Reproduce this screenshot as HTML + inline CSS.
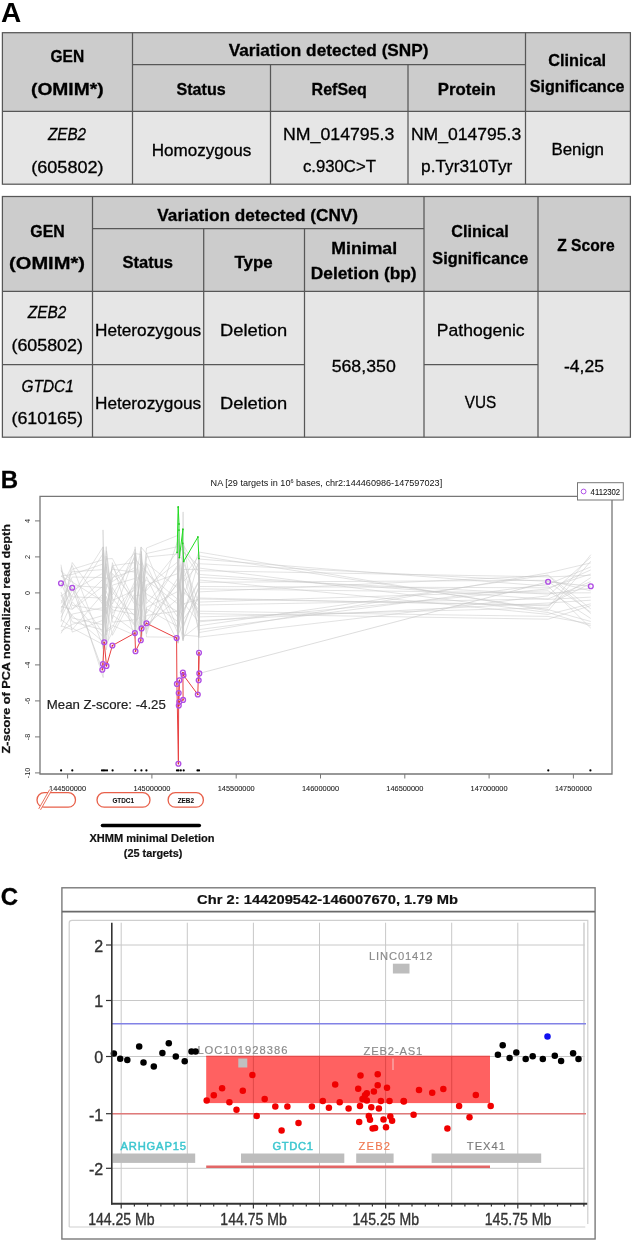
<!DOCTYPE html>
<html><head><meta charset="utf-8"><style>
html,body{margin:0;padding:0;background:#fff;width:633px;height:1243px;overflow:hidden}
svg{display:block;font-family:"Liberation Sans", sans-serif;will-change:transform}
</style></head><body>
<svg width="633" height="1243" viewBox="0 0 633 1243">
<text x="11" y="22" font-size="28" font-weight="bold" font-style="normal" text-anchor="middle" fill="#000" >A</text>
<rect x="2.4" y="32.7" width="628" height="78.7" fill="#cccccc" stroke="none" stroke-width="1" />
<rect x="2.4" y="111.4" width="628" height="72.8" fill="#e6e6e6" stroke="none" stroke-width="1" />
<rect x="2.4" y="32.7" width="628" height="151.5" fill="none" stroke="#575757" stroke-width="1.25" />
<line x1="2.4" y1="111.4" x2="630.4" y2="111.4" stroke="#575757" stroke-width="1.25" />
<line x1="132.5" y1="64.5" x2="525.5" y2="64.5" stroke="#575757" stroke-width="1.25" />
<line x1="132.5" y1="32.5" x2="132.5" y2="184" stroke="#575757" stroke-width="1.25" />
<line x1="525.5" y1="32.5" x2="525.5" y2="184" stroke="#575757" stroke-width="1.25" />
<line x1="270.5" y1="64.5" x2="270.5" y2="184" stroke="#575757" stroke-width="1.25" />
<line x1="408" y1="64.5" x2="408" y2="184" stroke="#575757" stroke-width="1.25" />
<text x="67.3" y="62" font-size="16.5" font-weight="bold" font-style="normal" text-anchor="middle" fill="#000" textLength="33.6" lengthAdjust="spacingAndGlyphs"  stroke="#000" stroke-width="0.3">GEN</text>
<text x="67.3" y="95" font-size="16.5" font-weight="bold" font-style="normal" text-anchor="middle" fill="#000" textLength="72.6" lengthAdjust="spacingAndGlyphs"  stroke="#000" stroke-width="0.3">(OMIM*)</text>
<text x="328.6" y="55.5" font-size="16.5" font-weight="bold" font-style="normal" text-anchor="middle" fill="#000" textLength="199.8" lengthAdjust="spacingAndGlyphs"  stroke="#000" stroke-width="0.3">Variation detected (SNP)</text>
<text x="201.1" y="95" font-size="16.5" font-weight="bold" font-style="normal" text-anchor="middle" fill="#000" textLength="49.2" lengthAdjust="spacingAndGlyphs"  stroke="#000" stroke-width="0.3">Status</text>
<text x="339.2" y="95" font-size="16.5" font-weight="bold" font-style="normal" text-anchor="middle" fill="#000" textLength="55.2" lengthAdjust="spacingAndGlyphs"  stroke="#000" stroke-width="0.3">RefSeq</text>
<text x="466.8" y="95" font-size="16.5" font-weight="bold" font-style="normal" text-anchor="middle" fill="#000" textLength="57.9" lengthAdjust="spacingAndGlyphs"  stroke="#000" stroke-width="0.3">Protein</text>
<text x="577.2" y="66" font-size="16.5" font-weight="bold" font-style="normal" text-anchor="middle" fill="#000" textLength="57.9" lengthAdjust="spacingAndGlyphs"  stroke="#000" stroke-width="0.3">Clinical</text>
<text x="577.2" y="92" font-size="16.5" font-weight="bold" font-style="normal" text-anchor="middle" fill="#000" textLength="94.7" lengthAdjust="spacingAndGlyphs"  stroke="#000" stroke-width="0.3">Significance</text>
<text x="67" y="140.3" font-size="17" font-weight="normal" font-style="italic" text-anchor="middle" fill="#000" textLength="38" lengthAdjust="spacingAndGlyphs"  stroke="#000" stroke-width="0.3">ZEB2</text>
<text x="67.4" y="173" font-size="17" font-weight="normal" font-style="normal" text-anchor="middle" fill="#000" textLength="72.3" lengthAdjust="spacingAndGlyphs"  stroke="#000" stroke-width="0.3">(605802)</text>
<text x="201.5" y="156" font-size="17" font-weight="normal" font-style="normal" text-anchor="middle" fill="#000" textLength="99.6" lengthAdjust="spacingAndGlyphs"  stroke="#000" stroke-width="0.3">Homozygous</text>
<text x="338.7" y="140" font-size="17" font-weight="normal" font-style="normal" text-anchor="middle" fill="#000" textLength="111.3" lengthAdjust="spacingAndGlyphs"  stroke="#000" stroke-width="0.3">NM_014795.3</text>
<text x="339.4" y="171.5" font-size="17" font-weight="normal" font-style="normal" text-anchor="middle" fill="#000" textLength="73" lengthAdjust="spacingAndGlyphs"  stroke="#000" stroke-width="0.3">c.930C&gt;T</text>
<text x="466.1" y="140" font-size="17" font-weight="normal" font-style="normal" text-anchor="middle" fill="#000" textLength="110.4" lengthAdjust="spacingAndGlyphs"  stroke="#000" stroke-width="0.3">NM_014795.3</text>
<text x="466.7" y="171.5" font-size="17" font-weight="normal" font-style="normal" text-anchor="middle" fill="#000" textLength="91.2" lengthAdjust="spacingAndGlyphs"  stroke="#000" stroke-width="0.3">p.Tyr310Tyr</text>
<text x="577.7" y="155" font-size="17" font-weight="normal" font-style="normal" text-anchor="middle" fill="#000" textLength="52.6" lengthAdjust="spacingAndGlyphs"  stroke="#000" stroke-width="0.3">Benign</text>
<rect x="2.4" y="196.5" width="628" height="94.9" fill="#cccccc" stroke="none" stroke-width="1" />
<rect x="2.4" y="291.4" width="628" height="145.8" fill="#e6e6e6" stroke="none" stroke-width="1" />
<rect x="2.4" y="196.5" width="628" height="240.7" fill="none" stroke="#575757" stroke-width="1.25" />
<line x1="2.4" y1="291.4" x2="630.4" y2="291.4" stroke="#575757" stroke-width="1.25" />
<line x1="92.5" y1="228.6" x2="424" y2="228.6" stroke="#575757" stroke-width="1.25" />
<line x1="92.5" y1="196.5" x2="92.5" y2="437.2" stroke="#575757" stroke-width="1.25" />
<line x1="424" y1="196.5" x2="424" y2="437.2" stroke="#575757" stroke-width="1.25" />
<line x1="538" y1="196.5" x2="538" y2="437.2" stroke="#575757" stroke-width="1.25" />
<line x1="203.7" y1="228.6" x2="203.7" y2="437.2" stroke="#575757" stroke-width="1.25" />
<line x1="304.5" y1="228.6" x2="304.5" y2="437.2" stroke="#575757" stroke-width="1.25" />
<line x1="2.4" y1="364.6" x2="304.5" y2="364.6" stroke="#575757" stroke-width="1.25" />
<line x1="424" y1="364.6" x2="538" y2="364.6" stroke="#575757" stroke-width="1.25" />
<text x="47.5" y="236.6" font-size="16.5" font-weight="bold" font-style="normal" text-anchor="middle" fill="#000" textLength="34.4" lengthAdjust="spacingAndGlyphs"  stroke="#000" stroke-width="0.3">GEN</text>
<text x="47" y="268.5" font-size="16.5" font-weight="bold" font-style="normal" text-anchor="middle" fill="#000" textLength="75.8" lengthAdjust="spacingAndGlyphs"  stroke="#000" stroke-width="0.3">(OMIM*)</text>
<text x="257.7" y="220.8" font-size="16.5" font-weight="bold" font-style="normal" text-anchor="middle" fill="#000" textLength="200.7" lengthAdjust="spacingAndGlyphs"  stroke="#000" stroke-width="0.3">Variation detected (CNV)</text>
<text x="147.7" y="268" font-size="16.5" font-weight="bold" font-style="normal" text-anchor="middle" fill="#000" textLength="50.6" lengthAdjust="spacingAndGlyphs"  stroke="#000" stroke-width="0.3">Status</text>
<text x="253.6" y="268" font-size="16.5" font-weight="bold" font-style="normal" text-anchor="middle" fill="#000" textLength="38.2" lengthAdjust="spacingAndGlyphs"  stroke="#000" stroke-width="0.3">Type</text>
<text x="364.2" y="254.1" font-size="16.5" font-weight="bold" font-style="normal" text-anchor="middle" fill="#000" textLength="65.8" lengthAdjust="spacingAndGlyphs"  stroke="#000" stroke-width="0.3">Minimal</text>
<text x="363.7" y="279.2" font-size="16.5" font-weight="bold" font-style="normal" text-anchor="middle" fill="#000" textLength="105.9" lengthAdjust="spacingAndGlyphs"  stroke="#000" stroke-width="0.3">Deletion (bp)</text>
<text x="480" y="237.4" font-size="16.5" font-weight="bold" font-style="normal" text-anchor="middle" fill="#000" textLength="57.5" lengthAdjust="spacingAndGlyphs"  stroke="#000" stroke-width="0.3">Clinical</text>
<text x="480.3" y="264.2" font-size="16.5" font-weight="bold" font-style="normal" text-anchor="middle" fill="#000" textLength="95.9" lengthAdjust="spacingAndGlyphs"  stroke="#000" stroke-width="0.3">Significance</text>
<text x="585.9" y="251.3" font-size="16.5" font-weight="bold" font-style="normal" text-anchor="middle" fill="#000" textLength="57.4" lengthAdjust="spacingAndGlyphs"  stroke="#000" stroke-width="0.3">Z Score</text>
<text x="47" y="318.4" font-size="17" font-weight="normal" font-style="italic" text-anchor="middle" fill="#000" textLength="38.4" lengthAdjust="spacingAndGlyphs"  stroke="#000" stroke-width="0.3">ZEB2</text>
<text x="47.2" y="350.5" font-size="17" font-weight="normal" font-style="normal" text-anchor="middle" fill="#000" textLength="71.5" lengthAdjust="spacingAndGlyphs"  stroke="#000" stroke-width="0.3">(605802)</text>
<text x="47.7" y="391.7" font-size="17" font-weight="normal" font-style="italic" text-anchor="middle" fill="#000" textLength="52.3" lengthAdjust="spacingAndGlyphs"  stroke="#000" stroke-width="0.3">GTDC1</text>
<text x="47.2" y="423.5" font-size="17" font-weight="normal" font-style="normal" text-anchor="middle" fill="#000" textLength="71.5" lengthAdjust="spacingAndGlyphs"  stroke="#000" stroke-width="0.3">(610165)</text>
<text x="148.1" y="335.7" font-size="17" font-weight="normal" font-style="normal" text-anchor="middle" fill="#000" textLength="106.2" lengthAdjust="spacingAndGlyphs"  stroke="#000" stroke-width="0.3">Heterozygous</text>
<text x="148.1" y="408.5" font-size="17" font-weight="normal" font-style="normal" text-anchor="middle" fill="#000" textLength="106.2" lengthAdjust="spacingAndGlyphs"  stroke="#000" stroke-width="0.3">Heterozygous</text>
<text x="253.6" y="335.7" font-size="17" font-weight="normal" font-style="normal" text-anchor="middle" fill="#000" textLength="67.3" lengthAdjust="spacingAndGlyphs"  stroke="#000" stroke-width="0.3">Deletion</text>
<text x="253.6" y="408.5" font-size="17" font-weight="normal" font-style="normal" text-anchor="middle" fill="#000" textLength="67.3" lengthAdjust="spacingAndGlyphs"  stroke="#000" stroke-width="0.3">Deletion</text>
<text x="363.7" y="372" font-size="17" font-weight="normal" font-style="normal" text-anchor="middle" fill="#000" textLength="64.1" lengthAdjust="spacingAndGlyphs"  stroke="#000" stroke-width="0.3">568,350</text>
<text x="480.7" y="336.2" font-size="17" font-weight="normal" font-style="normal" text-anchor="middle" fill="#000" textLength="87.8" lengthAdjust="spacingAndGlyphs"  stroke="#000" stroke-width="0.3">Pathogenic</text>
<text x="480.5" y="407.8" font-size="17" font-weight="normal" font-style="normal" text-anchor="middle" fill="#000" textLength="31.5" lengthAdjust="spacingAndGlyphs"  stroke="#000" stroke-width="0.3">VUS</text>
<text x="584" y="372" font-size="17" font-weight="normal" font-style="normal" text-anchor="middle" fill="#000" textLength="40" lengthAdjust="spacingAndGlyphs"  stroke="#000" stroke-width="0.3">-4,25</text>
<text x="9.5" y="488" font-size="24" font-weight="bold" font-style="normal" text-anchor="middle" fill="#000"  stroke="#000" stroke-width="0.3">B</text>
<text x="326.4" y="486" font-size="9.1" text-anchor="middle" fill="#111">NA [29 targets in 10<tspan dy="-3" font-size="5.5">6</tspan><tspan dy="3"> bases, chr2:144460986-147597023]</tspan></text>
<g fill="none" stroke="#c6c6c6" stroke-width="0.5"><path d="M61.0,606.4 L72.2,609.4 L103.1,586.2 L103.0,564.1 L103.2,614.6 L106.4,606.8 L112.4,635.3 L135.0,593.0 L135.0,627.0 L141.3,559.5 L141.3,597.1 L146.5,564.5 L178.1,633.5 L178.2,626.7 L178.1,547.0 L178.0,635.5 L178.0,574.4 L178.0,635.7 L178.2,602.9 L183.2,592.8 L183.2,555.7 L183.1,635.1 L198.7,636.4 L198.7,559.6 L198.6,594.7 L198.7,574.4 L548.1,599.4 L590.8,597.1"/><path d="M61.0,596.0 L72.2,587.9 L103.1,633.3 L103.0,634.2 L103.2,547.0 L106.3,571.2 L112.4,592.0 L135.2,616.5 L135.0,610.2 L141.2,575.3 L141.3,589.7 L146.5,590.4 L178.1,550.8 L178.0,546.4 L178.1,609.4 L178.1,558.7 L178.2,600.3 L178.1,568.1 L178.1,641.2 L183.0,574.0 L183.1,587.1 L183.2,625.7 L198.6,588.3 L198.6,556.9 L198.7,607.5 L198.7,598.0 L548.1,605.8 L590.8,577.6"/><path d="M61.0,631.1 L72.2,624.4 L103.2,615.5 L103.1,547.3 L103.0,620.6 L106.4,601.5 L112.4,609.9 L135.2,614.4 L135.1,552.9 L141.3,585.8 L141.3,570.0 L146.5,636.9 L178.2,637.3 L178.1,638.1 L178.1,618.2 L178.0,623.2 L178.2,560.9 L178.0,602.1 L178.2,579.2 L183.2,634.9 L183.0,542.3 L183.1,597.5 L198.6,552.5 L198.6,595.1 L198.6,623.6 L198.6,602.1 L548.1,590.8 L590.8,618.5"/><path d="M61.0,592.1 L72.2,621.8 L103.0,629.9 L103.0,561.3 L103.0,529.9 L106.4,635.2 L112.4,585.2 L135.0,578.4 L135.2,624.4 L141.2,600.1 L141.1,618.8 L146.5,557.0 L178.2,553.9 L178.1,603.2 L178.0,599.7 L178.2,610.1 L178.0,578.7 L178.0,544.4 L178.0,551.9 L183.2,579.6 L183.0,604.9 L183.0,577.4 L198.8,556.1 L198.8,567.2 L198.7,565.4 L198.7,552.0 L548.1,610.9 L590.8,561.2"/><path d="M61.0,599.9 L72.2,615.7 L103.2,641.8 L103.2,619.8 L103.1,563.0 L106.4,623.4 L112.4,577.4 L135.1,570.3 L135.1,558.8 L141.1,566.5 L141.1,554.6 L146.5,613.4 L178.0,564.6 L178.1,582.4 L178.0,565.4 L178.2,570.2 L178.2,570.3 L178.0,565.7 L178.1,594.3 L183.2,556.6 L183.0,611.4 L183.2,562.0 L198.7,603.0 L198.6,592.9 L198.8,581.2 L198.7,555.8 L548.1,609.6 L590.8,621.5"/><path d="M61.0,621.7 L72.2,562.5 L103.1,604.8 L103.2,644.3 L103.2,637.3 L106.2,563.5 L112.4,604.1 L135.0,549.2 L135.2,635.1 L141.3,591.7 L141.1,617.6 L146.5,628.6 L178.0,581.9 L178.0,565.0 L178.2,513.7 L178.2,563.5 L178.0,564.4 L178.1,603.5 L178.2,562.0 L183.1,577.3 L183.0,618.0 L183.1,639.4 L198.6,594.3 L198.8,552.3 L198.7,561.3 L198.7,613.6 L548.1,619.2 L590.8,605.6"/><path d="M61.0,567.4 L72.2,605.4 L103.2,610.4 L103.1,624.9 L103.2,633.4 L106.2,596.3 L112.4,618.6 L135.1,554.0 L135.2,568.7 L141.3,612.0 L141.2,551.0 L146.5,599.1 L178.1,621.8 L178.0,555.3 L178.1,613.6 L178.0,581.4 L178.0,605.5 L178.2,619.0 L178.1,589.4 L183.2,567.9 L183.1,511.9 L183.0,539.9 L198.6,632.5 L198.7,561.5 L198.8,598.6 L198.8,620.7 L548.1,603.0 L590.8,600.2"/><path d="M61.0,571.0 L72.2,580.8 L103.2,677.5 L103.2,608.4 L103.1,610.4 L106.2,589.0 L112.4,566.5 L135.2,605.1 L135.0,636.4 L141.3,618.2 L141.1,612.6 L146.5,553.2 L178.1,630.0 L178.2,562.1 L178.2,595.6 L178.0,574.8 L178.1,615.1 L178.2,620.1 L178.2,563.4 L183.1,585.6 L183.2,601.7 L183.2,610.5 L198.7,581.1 L198.8,576.0 L198.7,597.5 L198.8,599.0 L548.1,604.9 L590.8,583.2"/><path d="M61.0,580.6 L72.2,596.9 L103.0,598.0 L103.2,594.4 L103.2,649.1 L106.4,550.8 L112.4,598.2 L135.2,626.3 L135.1,621.3 L141.3,615.9 L141.3,604.3 L146.5,633.9 L178.1,539.6 L178.1,627.5 L178.0,591.0 L178.1,549.2 L178.1,553.7 L178.0,547.3 L178.2,637.7 L183.0,545.5 L183.0,545.1 L183.1,611.9 L198.6,582.3 L198.7,617.4 L198.6,603.5 L198.8,568.0 L548.1,612.5 L590.8,625.8"/><path d="M61.0,612.0 L72.2,569.3 L103.1,559.7 L103.1,575.3 L103.1,572.3 L106.3,614.4 L112.4,573.5 L135.0,599.9 L135.0,553.5 L141.1,554.5 L141.2,600.8 L146.5,548.0 L178.1,535.3 L178.2,551.0 L178.0,545.9 L178.1,545.4 L178.2,637.3 L178.0,559.0 L178.1,578.4 L183.1,615.0 L183.1,547.4 L183.2,619.6 L198.8,597.9 L198.6,578.1 L198.8,626.0 L198.7,625.8 L548.1,575.0 L590.8,608.9"/><path d="M61.0,613.5 L72.2,585.6 L103.1,587.6 L103.0,589.0 L103.1,555.5 L106.2,644.3 L112.4,632.2 L135.0,585.8 L135.2,632.0 L141.3,552.4 L141.1,626.6 L146.5,584.7 L178.0,573.5 L178.1,585.5 L178.2,579.5 L178.1,560.4 L178.1,539.0 L178.1,576.6 L178.2,543.8 L183.2,552.5 L183.0,609.9 L183.0,550.8 L198.7,575.6 L198.8,622.3 L198.6,631.1 L198.6,621.9 L548.1,588.9 L590.8,569.9"/><path d="M61.0,588.3 L72.2,565.5 L103.2,646.8 L103.1,592.4 L103.0,574.8 L106.3,606.2 L112.4,578.4 L135.1,552.4 L135.2,565.7 L141.3,584.5 L141.1,558.5 L146.5,603.5 L178.1,567.0 L178.1,593.9 L178.0,603.3 L178.0,624.1 L178.2,624.9 L178.2,596.1 L178.2,606.7 L183.0,629.3 L183.1,585.6 L183.2,544.7 L198.6,571.8 L198.6,670.3 L198.7,616.2 L198.6,586.5 L548.1,587.8 L590.8,574.0"/><path d="M61.0,595.2 L72.2,618.0 L103.0,624.7 L103.1,572.3 L103.1,583.7 L106.4,613.6 L112.4,565.6 L135.1,562.6 L135.2,588.7 L141.1,570.6 L141.2,633.1 L146.5,607.3 L178.0,591.4 L178.0,578.4 L178.0,551.5 L178.1,587.0 L178.1,593.3 L178.1,561.9 L178.2,624.6 L183.2,550.1 L183.1,553.3 L183.0,616.7 L198.7,561.2 L198.6,624.8 L198.6,561.6 L198.8,637.2 L548.1,595.8 L590.8,557.2"/><path d="M61.0,633.4 L72.2,614.1 L103.0,607.6 L103.2,636.0 L103.0,646.4 L106.4,621.8 L112.4,562.6 L135.1,638.5 L135.1,597.4 L141.2,627.5 L141.2,594.4 L146.5,576.8 L178.1,643.3 L178.0,588.9 L178.0,571.0 L178.2,611.2 L178.1,543.6 L178.2,539.1 L178.0,634.6 L183.1,623.9 L183.1,582.3 L183.1,551.4 L198.6,565.5 L198.8,585.1 L198.8,610.3 L198.8,577.3 L548.1,594.1 L590.8,588.1"/><path d="M61.0,564.7 L72.2,632.1 L103.0,620.2 L103.0,600.4 L103.1,604.9 L106.3,642.4 L112.4,587.5 L135.0,625.2 L135.1,546.8 L141.3,602.7 L141.2,622.7 L146.5,620.8 L178.0,583.5 L178.2,567.4 L178.0,595.0 L178.2,630.2 L178.0,582.6 L178.0,635.1 L178.2,629.6 L183.2,606.7 L183.0,563.4 L183.0,582.2 L198.6,564.7 L198.7,600.2 L198.7,555.4 L198.8,588.9 L548.1,593.0 L590.8,592.8"/><path d="M61.0,627.0 L72.2,601.7 L103.1,636.8 L103.1,579.2 L103.2,578.6 L106.4,578.0 L112.4,581.6 L135.1,567.2 L135.2,574.8 L141.2,582.0 L141.1,547.2 L146.5,553.5 L178.2,546.5 L178.1,640.7 L178.2,642.8 L178.1,634.5 L178.0,619.0 L178.2,574.0 L178.1,574.5 L183.0,619.8 L183.1,622.1 L183.2,569.5 L198.7,569.3 L198.7,637.8 L198.6,634.4 L198.8,629.6 L548.1,584.2 L590.8,566.9"/><path d="M61.0,569.8 L72.2,600.6 L103.2,553.6 L103.2,629.6 L103.0,593.5 L106.2,556.1 L112.4,600.5 L135.1,590.1 L135.0,602.6 L141.2,606.6 L141.2,574.4 L146.5,624.8 L178.2,598.6 L178.2,617.8 L178.1,637.3 L178.2,576.4 L178.2,548.0 L178.0,624.0 L178.2,621.3 L183.0,595.2 L183.1,576.1 L183.1,587.8 L198.8,610.1 L198.8,602.6 L198.8,635.9 L198.6,616.9 L548.1,607.8 L590.8,554.7"/><path d="M61.0,603.6 L72.2,577.0 L103.0,577.5 L103.0,605.9 L103.2,601.4 L106.4,566.6 L112.4,622.2 L135.1,619.7 L135.1,614.3 L141.1,638.1 L141.2,567.3 L146.5,570.9 L178.2,617.9 L178.2,608.2 L178.1,572.7 L178.0,605.9 L178.2,588.2 L178.2,551.9 L178.1,614.5 L183.0,587.4 L183.2,597.5 L183.0,604.0 L198.8,599.2 L198.6,568.8 L198.8,619.5 L198.7,605.0 L548.1,598.9 L590.8,581.6"/><path d="M61.0,617.5 L72.2,595.4 L103.2,546.7 L103.1,554.3 L103.0,642.4 L106.4,630.0 L112.4,625.4 L135.1,635.4 L135.0,617.5 L141.2,563.8 L141.2,561.1 L146.5,573.2 L178.2,599.8 L178.1,596.5 L178.2,632.7 L178.2,642.1 L178.0,598.4 L178.0,589.7 L178.2,583.1 L183.1,602.4 L183.2,571.0 L183.0,573.0 L198.7,628.5 L198.7,610.9 L198.8,613.3 L198.6,559.0 L548.1,586.2 L590.8,628.2"/><path d="M61.0,576.2 L72.2,582.0 L103.1,601.4 L103.2,614.5 L103.0,606.5 L106.2,591.2 L112.4,607.1 L135.0,609.7 L135.2,606.2 L141.3,635.9 L141.3,578.4 L146.5,630.2 L178.0,577.6 L178.0,614.0 L178.2,584.2 L178.2,617.0 L178.0,557.1 L178.2,610.9 L178.2,617.0 L183.1,640.7 L183.2,634.6 L183.1,586.3 L198.7,613.4 L198.7,584.4 L198.7,585.7 L198.7,582.3 L548.1,580.3 L590.8,590.9"/><path d="M61.0,582.9 L72.2,609.0 L103.2,578.9 L103.2,638.7 L103.2,567.6 L106.2,649.9 L112.4,615.0 L135.0,631.4 L135.1,582.0 L141.3,574.1 L141.3,581.3 L146.5,563.4 L178.1,588.2 L178.0,549.1 L178.1,559.3 L178.1,593.0 L178.1,608.8 L178.1,591.5 L178.0,556.8 L183.1,542.3 L183.1,591.6 L183.0,566.5 L198.8,620.0 L198.6,606.2 L198.7,583.2 L198.6,591.9 L548.1,575.6 L590.8,613.6"/><path d="M61.0,625.8 L72.2,629.6 L103.0,593.7 L103.0,567.4 L103.2,597.4 L106.2,558.9 L112.4,558.6 L135.1,601.9 L135.1,595.5 L141.3,595.2 L141.3,629.3 L146.5,615.4 L178.0,611.2 L178.2,542.1 L178.1,627.8 L178.2,598.2 L178.1,631.6 L178.1,586.0 L178.0,547.9 L183.0,562.6 L183.0,561.3 L183.0,591.7 L198.7,605.3 L198.6,634.0 L198.6,551.9 L198.8,579.9 L548.1,614.4 L590.8,603.8"/><path d="M61.0,619.4 L72.2,628.1 L103.1,644.5 L103.1,611.9 L103.0,627.6 L106.4,584.1 L112.4,594.9 L135.0,557.2 L135.0,577.6 L141.2,623.5 L141.2,586.8 L146.5,594.1 L178.1,611.8 L178.0,574.2 L178.2,555.7 L178.1,588.9 L178.2,639.7 L178.1,579.2 L178.0,596.6 L183.0,563.2 L183.1,625.6 L183.2,627.5 L198.7,587.0 L198.8,573.5 L198.8,588.7 L198.8,570.7 L548.1,576.9 L590.8,575.3"/><path d="M61.0,576.0 L72.2,574.5 L103.1,564.0 L103.2,585.7 L103.2,589.4 L106.2,546.6 L112.4,613.4 L135.0,585.3 L135.0,584.5 L141.1,546.9 L141.3,639.5 L146.5,608.9 L178.1,626.7 L178.0,602.1 L178.2,577.2 L178.1,540.9 L178.0,631.0 L178.2,629.6 L178.0,541.7 L183.2,635.3 L183.2,574.2 L183.0,602.3 L198.7,621.9 L198.6,618.3 L198.8,577.6 L198.6,611.2 L548.1,616.4 L590.8,623.9"/><path d="M61.0,584.6 L72.2,571.8 L103.1,569.6 L103.2,552.7 L103.2,622.6 L106.3,578.9 L112.4,569.3 L135.0,572.1 L135.0,563.4 L141.1,610.7 L141.1,609.1 L146.5,586.9 L178.2,561.5 L178.1,621.3 L178.1,542.5 L178.1,599.8 L178.1,619.5 L178.1,615.1 L178.1,569.2 L183.1,610.0 L183.1,638.9 L183.1,556.1 L198.8,617.7 L198.8,612.0 L198.8,570.5 L198.7,632.6 L548.1,572.9 L590.8,562.9"/><path d="M61.0,608.2 L72.2,590.9 L103.2,573.1 L103.2,648.2 L103.0,550.5 L106.4,631.5 L112.4,627.7 L135.0,581.1 L135.1,591.1 L141.2,630.1 L141.3,583.2 L146.5,580.2 L178.2,604.1 L178.2,635.1 L178.2,626.4 L178.1,554.0 L178.0,585.8 L178.0,641.8 L178.2,609.5 L183.0,615.5 L183.0,640.7 L183.0,637.3 L198.7,625.2 L198.6,589.4 L198.8,572.6 L198.6,563.7 L548.1,581.4 L590.8,612.2"/></g>
<path d="M177.1,552.4 L178.2,506.9 L179,524 L179,530.1 L179.4,557.6 L182.9,529.2 L182.7,543.4 L183.7,561.4 L197.9,537 L198.9,558.6" fill="none" stroke="#22dd22" stroke-width="1"/>
<circle cx="177.1" cy="552.4" r="0.9" fill="#22cc22"/>
<circle cx="178.2" cy="506.9" r="0.9" fill="#22cc22"/>
<circle cx="179" cy="524" r="0.9" fill="#22cc22"/>
<circle cx="179" cy="530.1" r="0.9" fill="#22cc22"/>
<circle cx="179.4" cy="557.6" r="0.9" fill="#22cc22"/>
<circle cx="182.9" cy="529.2" r="0.9" fill="#22cc22"/>
<circle cx="182.7" cy="543.4" r="0.9" fill="#22cc22"/>
<circle cx="183.7" cy="561.4" r="0.9" fill="#22cc22"/>
<circle cx="197.9" cy="537" r="0.9" fill="#22cc22"/>
<circle cx="198.9" cy="558.6" r="0.9" fill="#22cc22"/>
<path d="M61,583.3 L72.2,587.8 L102.3,669.7 M199.3,673.4 L548.1,581.8 L590.8,586.3" fill="none" stroke="#c6c6c6" stroke-width="0.6"/>
<path d="M102.3,669.7 L102.9,664 L104.2,642.2 L106.5,665.9 L112.4,645.5 L134.9,633.1 L135.5,651.3 L140.8,640.3 L141.6,628.4 L146.5,623.3 L176.6,638.1 L176.9,683.9 L178.4,763.7 L178.7,693 L179.4,680.3 L178.8,705.6 L179.3,701.8 L183.1,699.9 L182.9,672.5 L183.5,675.3 L197.8,694.5 L199,652.8 L198.7,680.3 L199.3,673.4" fill="none" stroke="#e84040" stroke-width="1"/>
<circle cx="61" cy="583.3" r="2.4" fill="none" stroke="#b04ee4" stroke-width="1.35"/>
<circle cx="72.2" cy="587.8" r="2.4" fill="none" stroke="#b04ee4" stroke-width="1.35"/>
<circle cx="102.3" cy="669.7" r="2.4" fill="none" stroke="#b04ee4" stroke-width="1.35"/>
<circle cx="102.9" cy="664" r="2.4" fill="none" stroke="#b04ee4" stroke-width="1.35"/>
<circle cx="104.2" cy="642.2" r="2.4" fill="none" stroke="#b04ee4" stroke-width="1.35"/>
<circle cx="106.5" cy="665.9" r="2.4" fill="none" stroke="#b04ee4" stroke-width="1.35"/>
<circle cx="112.4" cy="645.5" r="2.4" fill="none" stroke="#b04ee4" stroke-width="1.35"/>
<circle cx="134.9" cy="633.1" r="2.4" fill="none" stroke="#b04ee4" stroke-width="1.35"/>
<circle cx="135.5" cy="651.3" r="2.4" fill="none" stroke="#b04ee4" stroke-width="1.35"/>
<circle cx="140.8" cy="640.3" r="2.4" fill="none" stroke="#b04ee4" stroke-width="1.35"/>
<circle cx="141.6" cy="628.4" r="2.4" fill="none" stroke="#b04ee4" stroke-width="1.35"/>
<circle cx="146.5" cy="623.3" r="2.4" fill="none" stroke="#b04ee4" stroke-width="1.35"/>
<circle cx="176.6" cy="638.1" r="2.4" fill="none" stroke="#b04ee4" stroke-width="1.35"/>
<circle cx="176.9" cy="683.9" r="2.4" fill="none" stroke="#b04ee4" stroke-width="1.35"/>
<circle cx="178.4" cy="763.7" r="2.4" fill="none" stroke="#b04ee4" stroke-width="1.35"/>
<circle cx="178.8" cy="705.6" r="2.4" fill="none" stroke="#b04ee4" stroke-width="1.35"/>
<circle cx="179.3" cy="701.8" r="2.4" fill="none" stroke="#b04ee4" stroke-width="1.35"/>
<circle cx="178.7" cy="693" r="2.4" fill="none" stroke="#b04ee4" stroke-width="1.35"/>
<circle cx="179.4" cy="680.3" r="2.4" fill="none" stroke="#b04ee4" stroke-width="1.35"/>
<circle cx="182.9" cy="672.5" r="2.4" fill="none" stroke="#b04ee4" stroke-width="1.35"/>
<circle cx="183.5" cy="675.3" r="2.4" fill="none" stroke="#b04ee4" stroke-width="1.35"/>
<circle cx="183.1" cy="699.9" r="2.4" fill="none" stroke="#b04ee4" stroke-width="1.35"/>
<circle cx="199" cy="652.8" r="2.4" fill="none" stroke="#b04ee4" stroke-width="1.35"/>
<circle cx="199.3" cy="673.4" r="2.4" fill="none" stroke="#b04ee4" stroke-width="1.35"/>
<circle cx="198.7" cy="680.3" r="2.4" fill="none" stroke="#b04ee4" stroke-width="1.35"/>
<circle cx="197.8" cy="694.5" r="2.4" fill="none" stroke="#b04ee4" stroke-width="1.35"/>
<circle cx="548.1" cy="581.8" r="2.4" fill="none" stroke="#b04ee4" stroke-width="1.35"/>
<circle cx="590.8" cy="586.3" r="2.4" fill="none" stroke="#b04ee4" stroke-width="1.35"/>
<circle cx="102.3" cy="669.7" r="0.8" fill="#d03030"/>
<circle cx="102.9" cy="664" r="0.8" fill="#d03030"/>
<circle cx="104.2" cy="642.2" r="0.8" fill="#d03030"/>
<circle cx="106.5" cy="665.9" r="0.8" fill="#d03030"/>
<circle cx="112.4" cy="645.5" r="0.8" fill="#d03030"/>
<circle cx="134.9" cy="633.1" r="0.8" fill="#d03030"/>
<circle cx="135.5" cy="651.3" r="0.8" fill="#d03030"/>
<circle cx="140.8" cy="640.3" r="0.8" fill="#d03030"/>
<circle cx="141.6" cy="628.4" r="0.8" fill="#d03030"/>
<circle cx="146.5" cy="623.3" r="0.8" fill="#d03030"/>
<circle cx="176.6" cy="638.1" r="0.8" fill="#d03030"/>
<circle cx="176.9" cy="683.9" r="0.8" fill="#d03030"/>
<circle cx="178.4" cy="763.7" r="0.8" fill="#d03030"/>
<circle cx="178.7" cy="693" r="0.8" fill="#d03030"/>
<circle cx="179.4" cy="680.3" r="0.8" fill="#d03030"/>
<circle cx="178.8" cy="705.6" r="0.8" fill="#d03030"/>
<circle cx="179.3" cy="701.8" r="0.8" fill="#d03030"/>
<circle cx="183.1" cy="699.9" r="0.8" fill="#d03030"/>
<circle cx="182.9" cy="672.5" r="0.8" fill="#d03030"/>
<circle cx="183.5" cy="675.3" r="0.8" fill="#d03030"/>
<circle cx="197.8" cy="694.5" r="0.8" fill="#d03030"/>
<circle cx="199" cy="652.8" r="0.8" fill="#d03030"/>
<circle cx="198.7" cy="680.3" r="0.8" fill="#d03030"/>
<circle cx="199.3" cy="673.4" r="0.8" fill="#d03030"/>
<circle cx="61.1" cy="770.4" r="1.1" fill="#000"/>
<circle cx="72.3" cy="770.4" r="1.1" fill="#000"/>
<circle cx="102" cy="770.4" r="1.1" fill="#000"/>
<circle cx="103.5" cy="770.4" r="1.1" fill="#000"/>
<circle cx="105" cy="770.4" r="1.1" fill="#000"/>
<circle cx="107" cy="770.4" r="1.1" fill="#000"/>
<circle cx="112.6" cy="770.4" r="1.1" fill="#000"/>
<circle cx="135.3" cy="770.4" r="1.1" fill="#000"/>
<circle cx="141.4" cy="770.4" r="1.1" fill="#000"/>
<circle cx="146.4" cy="770.4" r="1.1" fill="#000"/>
<circle cx="177" cy="770.4" r="1.1" fill="#000"/>
<circle cx="178.5" cy="770.4" r="1.1" fill="#000"/>
<circle cx="180.8" cy="770.4" r="1.1" fill="#000"/>
<circle cx="183.7" cy="770.4" r="1.1" fill="#000"/>
<circle cx="197.5" cy="770.4" r="1.1" fill="#000"/>
<circle cx="199" cy="770.4" r="1.1" fill="#000"/>
<circle cx="548.3" cy="770.4" r="1.1" fill="#000"/>
<circle cx="590.4" cy="770.4" r="1.1" fill="#000"/>
<path d="M40,496.3 H612 V774 H40 Z" fill="none" stroke="#777" stroke-width="1.3"/>
<line x1="35" y1="520.9" x2="40" y2="520.9" stroke="#777" stroke-width="1" />
<text transform="translate(29.8,520.9) rotate(-90)" font-size="7.3" text-anchor="middle" fill="#222">4</text>
<line x1="35" y1="556.9" x2="40" y2="556.9" stroke="#777" stroke-width="1" />
<text transform="translate(29.8,556.9) rotate(-90)" font-size="7.3" text-anchor="middle" fill="#222">2</text>
<line x1="35" y1="592.9" x2="40" y2="592.9" stroke="#777" stroke-width="1" />
<text transform="translate(29.8,592.9) rotate(-90)" font-size="7.3" text-anchor="middle" fill="#222">0</text>
<line x1="35" y1="628.9" x2="40" y2="628.9" stroke="#777" stroke-width="1" />
<text transform="translate(29.8,628.9) rotate(-90)" font-size="7.3" text-anchor="middle" fill="#222">-2</text>
<line x1="35" y1="664.9" x2="40" y2="664.9" stroke="#777" stroke-width="1" />
<text transform="translate(29.8,664.9) rotate(-90)" font-size="7.3" text-anchor="middle" fill="#222">-4</text>
<line x1="35" y1="700.9" x2="40" y2="700.9" stroke="#777" stroke-width="1" />
<text transform="translate(29.8,700.9) rotate(-90)" font-size="7.3" text-anchor="middle" fill="#222">-6</text>
<line x1="35" y1="736.9" x2="40" y2="736.9" stroke="#777" stroke-width="1" />
<text transform="translate(29.8,736.9) rotate(-90)" font-size="7.3" text-anchor="middle" fill="#222">-8</text>
<line x1="35" y1="772.9" x2="40" y2="772.9" stroke="#777" stroke-width="1" />
<text transform="translate(29.8,772.9) rotate(-90)" font-size="7.3" text-anchor="middle" fill="#222">-10</text>
<line x1="67.6" y1="774" x2="67.6" y2="778.5" stroke="#777" stroke-width="1" />
<text x="67.6" y="790.5" font-size="7.4" font-weight="normal" font-style="normal" text-anchor="middle" fill="#222"  stroke="#222" stroke-width="0.08">144500000</text>
<line x1="151.89999999999998" y1="774" x2="151.89999999999998" y2="778.5" stroke="#777" stroke-width="1" />
<text x="151.9" y="790.5" font-size="7.4" font-weight="normal" font-style="normal" text-anchor="middle" fill="#222"  stroke="#222" stroke-width="0.08">145000000</text>
<line x1="236.2" y1="774" x2="236.2" y2="778.5" stroke="#777" stroke-width="1" />
<text x="236.2" y="790.5" font-size="7.4" font-weight="normal" font-style="normal" text-anchor="middle" fill="#222"  stroke="#222" stroke-width="0.08">145500000</text>
<line x1="320.5" y1="774" x2="320.5" y2="778.5" stroke="#777" stroke-width="1" />
<text x="320.5" y="790.5" font-size="7.4" font-weight="normal" font-style="normal" text-anchor="middle" fill="#222"  stroke="#222" stroke-width="0.08">146000000</text>
<line x1="404.79999999999995" y1="774" x2="404.79999999999995" y2="778.5" stroke="#777" stroke-width="1" />
<text x="404.8" y="790.5" font-size="7.4" font-weight="normal" font-style="normal" text-anchor="middle" fill="#222"  stroke="#222" stroke-width="0.08">146500000</text>
<line x1="489.1" y1="774" x2="489.1" y2="778.5" stroke="#777" stroke-width="1" />
<text x="489.1" y="790.5" font-size="7.4" font-weight="normal" font-style="normal" text-anchor="middle" fill="#222"  stroke="#222" stroke-width="0.08">147000000</text>
<line x1="573.4" y1="774" x2="573.4" y2="778.5" stroke="#777" stroke-width="1" />
<text x="573.4" y="790.5" font-size="7.4" font-weight="normal" font-style="normal" text-anchor="middle" fill="#222"  stroke="#222" stroke-width="0.08">147500000</text>
<text transform="translate(10.3,638.7) rotate(-90)" font-size="11.4" font-weight="bold" text-anchor="middle" fill="#111" stroke="#111" stroke-width="0.25" textLength="229.5" lengthAdjust="spacingAndGlyphs">Z-score of PCA normalized read depth</text>
<rect x="577.5" y="482.7" width="45.8" height="17.3" fill="#fff" stroke="#777" stroke-width="1" />
<circle cx="583.6" cy="491.5" r="2.4" fill="none" stroke="#b050e8" stroke-width="1"/>
<text x="590.6" y="494.6" font-size="8.2" font-weight="normal" font-style="normal" text-anchor="start" fill="#111" textLength="29.6" lengthAdjust="spacingAndGlyphs"  stroke="#111" stroke-width="0.08">4112302</text>
<text x="46.8" y="708.8" font-size="12.9" font-weight="normal" font-style="normal" text-anchor="start" fill="#222" textLength="119" lengthAdjust="spacingAndGlyphs"  stroke="#222" stroke-width="0.2">Mean Z-score: -4.25</text>
<rect x="37" y="792.7" width="38.5" height="14.5" rx="7.2" fill="none" stroke="#e8604a" stroke-width="1.3"/>
<rect x="97" y="792.7" width="53" height="14.5" rx="7.2" fill="none" stroke="#e8604a" stroke-width="1.3"/>
<rect x="168.1" y="792.7" width="35.3" height="14.5" rx="7.2" fill="none" stroke="#e8604a" stroke-width="1.3"/>
<line x1="39.6" y1="809.4" x2="50.6" y2="790" stroke="#fff" stroke-width="2.2" />
<line x1="38.7" y1="808.9" x2="49.7" y2="789.5" stroke="#e8604a" stroke-width="0.9" />
<line x1="40.5" y1="809.9" x2="51.5" y2="790.5" stroke="#e8604a" stroke-width="0.9" />
<text x="123.2" y="803.3" font-size="7.8" font-weight="bold" font-style="normal" text-anchor="middle" fill="#111" textLength="21.6" lengthAdjust="spacingAndGlyphs"  stroke="#111" stroke-width="0.08">GTDC1</text>
<text x="185.8" y="803.3" font-size="7.8" font-weight="bold" font-style="normal" text-anchor="middle" fill="#111" textLength="16.3" lengthAdjust="spacingAndGlyphs"  stroke="#111" stroke-width="0.08">ZEB2</text>
<line x1="102.5" y1="825.5" x2="199.3" y2="825.5" stroke="#000" stroke-width="3.6" stroke-linecap="round"/>
<text x="152" y="842" font-size="11" font-weight="bold" font-style="normal" text-anchor="middle" fill="#111" textLength="125" lengthAdjust="spacingAndGlyphs"  stroke="#111" stroke-width="0.2">XHMM minimal Deletion</text>
<text x="153.1" y="856.5" font-size="11" font-weight="bold" font-style="normal" text-anchor="middle" fill="#111" textLength="58.6" lengthAdjust="spacingAndGlyphs"  stroke="#111" stroke-width="0.2">(25 targets)</text>
<text x="9.5" y="905" font-size="24" font-weight="bold" font-style="normal" text-anchor="middle" fill="#000"  stroke="#000" stroke-width="0.3">C</text>
<rect x="61.9" y="887.8" width="533.2" height="351.2" fill="#fff" stroke="#7a7a7a" stroke-width="1.4" />
<line x1="61.9" y1="911.6" x2="595.1" y2="911.6" stroke="#6a6a6a" stroke-width="1.7" />
<text x="327.6" y="904.2" font-size="13.3" font-weight="bold" font-style="normal" text-anchor="middle" fill="#111" textLength="261" lengthAdjust="spacingAndGlyphs"  stroke="#111" stroke-width="0.2">Chr 2: 144209542-146007670, 1.79 Mb</text>
<path d="M69.2,1227 V923 Q69.2,920.4 72,920.4 H587.8 V1224" fill="none" stroke="#cfcfcf" stroke-width="1.2"/>
<line x1="69.2" y1="1227" x2="585.3" y2="1227" stroke="#cfcfcf" stroke-width="1.2" />
<line x1="121.2" y1="922.7" x2="121.2" y2="1203.7" stroke="#c8c8c8" stroke-width="1" />
<line x1="187.3" y1="922.7" x2="187.3" y2="1203.7" stroke="#c8c8c8" stroke-width="1" />
<line x1="253.4" y1="922.7" x2="253.4" y2="1203.7" stroke="#c8c8c8" stroke-width="1" />
<line x1="319.5" y1="922.7" x2="319.5" y2="1203.7" stroke="#c8c8c8" stroke-width="1" />
<line x1="385.6" y1="922.7" x2="385.6" y2="1203.7" stroke="#c8c8c8" stroke-width="1" />
<line x1="451.7" y1="922.7" x2="451.7" y2="1203.7" stroke="#c8c8c8" stroke-width="1" />
<line x1="517.8" y1="922.7" x2="517.8" y2="1203.7" stroke="#c8c8c8" stroke-width="1" />
<line x1="583.9" y1="922.7" x2="583.9" y2="1203.7" stroke="#c8c8c8" stroke-width="1" />
<line x1="112" y1="945.0" x2="585" y2="945.0" stroke="#c8c8c8" stroke-width="1" />
<line x1="112" y1="1000.5" x2="585" y2="1000.5" stroke="#c8c8c8" stroke-width="1" />
<line x1="112" y1="1056.5" x2="585" y2="1056.5" stroke="#c8c8c8" stroke-width="1" />
<line x1="112" y1="1113.7" x2="585" y2="1113.7" stroke="#c8c8c8" stroke-width="1" />
<line x1="112" y1="1168.3" x2="585" y2="1168.3" stroke="#c8c8c8" stroke-width="1" />
<line x1="584.2" y1="922.7" x2="584.2" y2="1203.7" stroke="#d5d5d5" stroke-width="1" />
<rect x="206.2" y="1055.9" width="283.8" height="47.2" fill="#ff5050" fill-opacity="0.9"/>
<line x1="253.4" y1="1055.9" x2="253.4" y2="1103.1" stroke="#e04848" stroke-width="1" />
<line x1="319.5" y1="1055.9" x2="319.5" y2="1103.1" stroke="#e04848" stroke-width="1" />
<line x1="385.6" y1="1055.9" x2="385.6" y2="1103.1" stroke="#e04848" stroke-width="1" />
<line x1="451.7" y1="1055.9" x2="451.7" y2="1103.1" stroke="#e04848" stroke-width="1" />
<line x1="206.2" y1="1056.3" x2="490" y2="1056.3" stroke="#e04848" stroke-width="1" />
<line x1="112" y1="1023.8" x2="586" y2="1023.8" stroke="#8282e6" stroke-width="1.4" />
<line x1="112" y1="1113.7" x2="586" y2="1113.7" stroke="#e07a7a" stroke-width="1.5" />
<line x1="206.2" y1="1166.7" x2="490" y2="1166.7" stroke="#e26666" stroke-width="2.4" />
<rect x="112.6" y="1153.5" width="82.6" height="9.4" fill="#bdbdbd" stroke="none" stroke-width="1" />
<rect x="241" y="1153.5" width="103.3" height="9.4" fill="#bdbdbd" stroke="none" stroke-width="1" />
<rect x="356.2" y="1153.5" width="37.4" height="9.4" fill="#bdbdbd" stroke="none" stroke-width="1" />
<rect x="431.6" y="1153.5" width="109.6" height="9.4" fill="#bdbdbd" stroke="none" stroke-width="1" />
<rect x="392.9" y="963.7" width="16.6" height="9.8" fill="#bdbdbd" stroke="none" stroke-width="1" />
<rect x="238.3" y="1058.5" width="9" height="9" fill="#c0c0c0" stroke="none" stroke-width="1" />
<text x="120.4" y="1149.6" font-size="11.2" fill="#3cc6cf" stroke="#3cc6cf" stroke-width="0.45" textLength="65.6" lengthAdjust="spacing">ARHGAP15</text>
<text x="272.4" y="1149.6" font-size="11.2" fill="#3cc6cf" stroke="#3cc6cf" stroke-width="0.45" textLength="40.60000000000002" lengthAdjust="spacing">GTDC1</text>
<text x="358.6" y="1149.6" font-size="11.2" fill="#f07850" stroke="#f07850" stroke-width="0.15" textLength="31.399999999999977" lengthAdjust="spacing">ZEB2</text>
<text x="466.8" y="1149.6" font-size="11.2" fill="#7a7a7a" stroke="#7a7a7a" stroke-width="0.15" textLength="38.19999999999999" lengthAdjust="spacing">TEX41</text>
<text x="369" y="960.2" font-size="11.2" fill="#8a8a8a" stroke="#8a8a8a" stroke-width="0.15" textLength="63.5" lengthAdjust="spacing">LINC01412</text>
<text x="197.4" y="1054.3" font-size="11.2" fill="#8a8a8a" stroke="#8a8a8a" stroke-width="0.15" textLength="89.99999999999997" lengthAdjust="spacing">LOC101928386</text>
<text x="363.6" y="1054.5" font-size="11.2" fill="#8a8a8a" stroke="#8a8a8a" stroke-width="0.15" textLength="58.69999999999999" lengthAdjust="spacing">ZEB2-AS1</text>
<line x1="393" y1="1058.5" x2="393" y2="1070" stroke="#f4c8c8" stroke-width="1" />
<circle cx="113.9" cy="1053.6" r="3.25" fill="#000"/>
<circle cx="120.2" cy="1058.7" r="3.25" fill="#000"/>
<circle cx="127.3" cy="1059.9" r="3.25" fill="#000"/>
<circle cx="139.2" cy="1046.5" r="3.25" fill="#000"/>
<circle cx="143.5" cy="1062.5" r="3.25" fill="#000"/>
<circle cx="153.8" cy="1066.5" r="3.25" fill="#000"/>
<circle cx="162.4" cy="1052.9" r="3.25" fill="#000"/>
<circle cx="168.8" cy="1043.3" r="3.25" fill="#000"/>
<circle cx="175.8" cy="1056.4" r="3.25" fill="#000"/>
<circle cx="184.7" cy="1061.2" r="3.25" fill="#000"/>
<circle cx="191.5" cy="1051.6" r="3.25" fill="#000"/>
<circle cx="195.6" cy="1051.6" r="3.25" fill="#000"/>
<circle cx="497.9" cy="1054.8" r="3.25" fill="#000"/>
<circle cx="502.7" cy="1045.3" r="3.25" fill="#000"/>
<circle cx="509.6" cy="1057.9" r="3.25" fill="#000"/>
<circle cx="516.3" cy="1052.5" r="3.25" fill="#000"/>
<circle cx="525.7" cy="1058.9" r="3.25" fill="#000"/>
<circle cx="532.7" cy="1056.3" r="3.25" fill="#000"/>
<circle cx="542.8" cy="1058.9" r="3.25" fill="#000"/>
<circle cx="554.8" cy="1055.7" r="3.25" fill="#000"/>
<circle cx="561.1" cy="1061.1" r="3.25" fill="#000"/>
<circle cx="573.1" cy="1053.2" r="3.25" fill="#000"/>
<circle cx="578.5" cy="1058.9" r="3.25" fill="#000"/>
<circle cx="206.7" cy="1100.4" r="3.25" fill="#f00000"/>
<circle cx="213.8" cy="1095.3" r="3.25" fill="#f00000"/>
<circle cx="222.1" cy="1088.3" r="3.25" fill="#f00000"/>
<circle cx="229.4" cy="1102.2" r="3.25" fill="#f00000"/>
<circle cx="236.5" cy="1109.7" r="3.25" fill="#f00000"/>
<circle cx="242.8" cy="1090.8" r="3.25" fill="#f00000"/>
<circle cx="252.4" cy="1075.1" r="3.25" fill="#f00000"/>
<circle cx="256.7" cy="1116" r="3.25" fill="#f00000"/>
<circle cx="264.7" cy="1099.1" r="3.25" fill="#f00000"/>
<circle cx="275.3" cy="1106.5" r="3.25" fill="#f00000"/>
<circle cx="287.4" cy="1106.5" r="3.25" fill="#f00000"/>
<circle cx="311.9" cy="1106.5" r="3.25" fill="#f00000"/>
<circle cx="322.8" cy="1100.9" r="3.25" fill="#f00000"/>
<circle cx="328.9" cy="1107.7" r="3.25" fill="#f00000"/>
<circle cx="335.2" cy="1084.5" r="3.25" fill="#f00000"/>
<circle cx="339.7" cy="1102.2" r="3.25" fill="#f00000"/>
<circle cx="348.6" cy="1108.5" r="3.25" fill="#f00000"/>
<circle cx="358.2" cy="1088.8" r="3.25" fill="#f00000"/>
<circle cx="360.5" cy="1075.6" r="3.25" fill="#f00000"/>
<circle cx="360" cy="1105.9" r="3.25" fill="#f00000"/>
<circle cx="362.5" cy="1098.9" r="3.25" fill="#f00000"/>
<circle cx="365" cy="1095.3" r="3.25" fill="#f00000"/>
<circle cx="366.8" cy="1093.3" r="3.25" fill="#f00000"/>
<circle cx="366.8" cy="1100.4" r="3.25" fill="#f00000"/>
<circle cx="371.3" cy="1107.2" r="3.25" fill="#f00000"/>
<circle cx="373.9" cy="1091.5" r="3.25" fill="#f00000"/>
<circle cx="377.7" cy="1074.3" r="3.25" fill="#f00000"/>
<circle cx="377.7" cy="1085.2" r="3.25" fill="#f00000"/>
<circle cx="378.9" cy="1108.5" r="3.25" fill="#f00000"/>
<circle cx="380.9" cy="1100.9" r="3.25" fill="#f00000"/>
<circle cx="387" cy="1087.7" r="3.25" fill="#f00000"/>
<circle cx="389.5" cy="1100.9" r="3.25" fill="#f00000"/>
<circle cx="403.7" cy="1100.9" r="3.25" fill="#f00000"/>
<circle cx="281.6" cy="1130.4" r="3.25" fill="#f00000"/>
<circle cx="298.5" cy="1122.9" r="3.25" fill="#f00000"/>
<circle cx="359.2" cy="1122.1" r="3.25" fill="#f00000"/>
<circle cx="368.8" cy="1116" r="3.25" fill="#f00000"/>
<circle cx="370" cy="1119.8" r="3.25" fill="#f00000"/>
<circle cx="372.6" cy="1128.4" r="3.25" fill="#f00000"/>
<circle cx="375.1" cy="1127.9" r="3.25" fill="#f00000"/>
<circle cx="383.5" cy="1119.6" r="3.25" fill="#f00000"/>
<circle cx="386" cy="1127.2" r="3.25" fill="#f00000"/>
<circle cx="390.3" cy="1116.5" r="3.25" fill="#f00000"/>
<circle cx="392.1" cy="1120.8" r="3.25" fill="#f00000"/>
<circle cx="403.8" cy="1101.5" r="3.25" fill="#f00000"/>
<circle cx="419" cy="1090.1" r="3.25" fill="#f00000"/>
<circle cx="432.2" cy="1092.7" r="3.25" fill="#f00000"/>
<circle cx="443.3" cy="1088.9" r="3.25" fill="#f00000"/>
<circle cx="475.8" cy="1094.9" r="3.25" fill="#f00000"/>
<circle cx="459.1" cy="1105.9" r="3.25" fill="#f00000"/>
<circle cx="490.7" cy="1105.9" r="3.25" fill="#f00000"/>
<circle cx="413.6" cy="1114.8" r="3.25" fill="#f00000"/>
<circle cx="469.5" cy="1117.3" r="3.25" fill="#f00000"/>
<circle cx="447.4" cy="1128.4" r="3.25" fill="#f00000"/>
<circle cx="547.5" cy="1036.4" r="3.25" fill="#1010f0"/>
<line x1="111.8" y1="922.7" x2="111.8" y2="1204.5" stroke="#333" stroke-width="1.6" />
<line x1="111" y1="1203.8" x2="587.2" y2="1203.8" stroke="#333" stroke-width="2" />
<line x1="106" y1="945.0" x2="112" y2="945.0" stroke="#333" stroke-width="1.2" />
<text x="103.2" y="951.8" font-size="16" text-anchor="end" fill="#333" stroke="#333" stroke-width="0.35">2</text>
<line x1="106" y1="1000.5" x2="112" y2="1000.5" stroke="#333" stroke-width="1.2" />
<text x="103.2" y="1007.3" font-size="16" text-anchor="end" fill="#333" stroke="#333" stroke-width="0.35">1</text>
<line x1="106" y1="1056.5" x2="112" y2="1056.5" stroke="#333" stroke-width="1.2" />
<text x="103.2" y="1063.3" font-size="16" text-anchor="end" fill="#333" stroke="#333" stroke-width="0.35">0</text>
<line x1="106" y1="1113.7" x2="112" y2="1113.7" stroke="#333" stroke-width="1.2" />
<text x="103.2" y="1120.5" font-size="16" text-anchor="end" fill="#333" stroke="#333" stroke-width="0.35">-1</text>
<line x1="106" y1="1168.3" x2="112" y2="1168.3" stroke="#333" stroke-width="1.2" />
<text x="103.2" y="1175.1" font-size="16" text-anchor="end" fill="#333" stroke="#333" stroke-width="0.35">-2</text>
<line x1="121.2" y1="1203.8" x2="121.2" y2="1208.5" stroke="#333" stroke-width="1.2" />
<line x1="134.4" y1="1203.8" x2="134.4" y2="1206.5" stroke="#333" stroke-width="1.2" />
<line x1="147.6" y1="1203.8" x2="147.6" y2="1206.5" stroke="#333" stroke-width="1.2" />
<line x1="160.9" y1="1203.8" x2="160.9" y2="1206.5" stroke="#333" stroke-width="1.2" />
<line x1="174.1" y1="1203.8" x2="174.1" y2="1206.5" stroke="#333" stroke-width="1.2" />
<line x1="187.3" y1="1203.8" x2="187.3" y2="1206.5" stroke="#333" stroke-width="1.2" />
<line x1="200.5" y1="1203.8" x2="200.5" y2="1206.5" stroke="#333" stroke-width="1.2" />
<line x1="213.7" y1="1203.8" x2="213.7" y2="1206.5" stroke="#333" stroke-width="1.2" />
<line x1="227.0" y1="1203.8" x2="227.0" y2="1206.5" stroke="#333" stroke-width="1.2" />
<line x1="240.2" y1="1203.8" x2="240.2" y2="1206.5" stroke="#333" stroke-width="1.2" />
<line x1="253.4" y1="1203.8" x2="253.4" y2="1208.5" stroke="#333" stroke-width="1.2" />
<line x1="266.6" y1="1203.8" x2="266.6" y2="1206.5" stroke="#333" stroke-width="1.2" />
<line x1="279.8" y1="1203.8" x2="279.8" y2="1206.5" stroke="#333" stroke-width="1.2" />
<line x1="293.1" y1="1203.8" x2="293.1" y2="1206.5" stroke="#333" stroke-width="1.2" />
<line x1="306.3" y1="1203.8" x2="306.3" y2="1206.5" stroke="#333" stroke-width="1.2" />
<line x1="319.5" y1="1203.8" x2="319.5" y2="1206.5" stroke="#333" stroke-width="1.2" />
<line x1="332.7" y1="1203.8" x2="332.7" y2="1206.5" stroke="#333" stroke-width="1.2" />
<line x1="345.9" y1="1203.8" x2="345.9" y2="1206.5" stroke="#333" stroke-width="1.2" />
<line x1="359.2" y1="1203.8" x2="359.2" y2="1206.5" stroke="#333" stroke-width="1.2" />
<line x1="372.4" y1="1203.8" x2="372.4" y2="1206.5" stroke="#333" stroke-width="1.2" />
<line x1="385.6" y1="1203.8" x2="385.6" y2="1208.5" stroke="#333" stroke-width="1.2" />
<line x1="398.8" y1="1203.8" x2="398.8" y2="1206.5" stroke="#333" stroke-width="1.2" />
<line x1="412.0" y1="1203.8" x2="412.0" y2="1206.5" stroke="#333" stroke-width="1.2" />
<line x1="425.3" y1="1203.8" x2="425.3" y2="1206.5" stroke="#333" stroke-width="1.2" />
<line x1="438.5" y1="1203.8" x2="438.5" y2="1206.5" stroke="#333" stroke-width="1.2" />
<line x1="451.7" y1="1203.8" x2="451.7" y2="1206.5" stroke="#333" stroke-width="1.2" />
<line x1="464.9" y1="1203.8" x2="464.9" y2="1206.5" stroke="#333" stroke-width="1.2" />
<line x1="478.1" y1="1203.8" x2="478.1" y2="1206.5" stroke="#333" stroke-width="1.2" />
<line x1="491.4" y1="1203.8" x2="491.4" y2="1206.5" stroke="#333" stroke-width="1.2" />
<line x1="504.6" y1="1203.8" x2="504.6" y2="1206.5" stroke="#333" stroke-width="1.2" />
<line x1="517.8" y1="1203.8" x2="517.8" y2="1208.5" stroke="#333" stroke-width="1.2" />
<line x1="531.0" y1="1203.8" x2="531.0" y2="1206.5" stroke="#333" stroke-width="1.2" />
<line x1="544.2" y1="1203.8" x2="544.2" y2="1206.5" stroke="#333" stroke-width="1.2" />
<line x1="557.5" y1="1203.8" x2="557.5" y2="1206.5" stroke="#333" stroke-width="1.2" />
<line x1="570.7" y1="1203.8" x2="570.7" y2="1206.5" stroke="#333" stroke-width="1.2" />
<line x1="583.9" y1="1203.8" x2="583.9" y2="1206.5" stroke="#333" stroke-width="1.2" />
<text x="121.4" y="1224.5" font-size="16" text-anchor="middle" fill="#333" stroke="#333" stroke-width="0.35" textLength="66.5" lengthAdjust="spacingAndGlyphs">144.25 Mb</text>
<text x="253.6" y="1224.5" font-size="16" text-anchor="middle" fill="#333" stroke="#333" stroke-width="0.35" textLength="66.5" lengthAdjust="spacingAndGlyphs">144.75 Mb</text>
<text x="385.8" y="1224.5" font-size="16" text-anchor="middle" fill="#333" stroke="#333" stroke-width="0.35" textLength="66.5" lengthAdjust="spacingAndGlyphs">145.25 Mb</text>
<text x="518.0" y="1224.5" font-size="16" text-anchor="middle" fill="#333" stroke="#333" stroke-width="0.35" textLength="66.5" lengthAdjust="spacingAndGlyphs">145.75 Mb</text>
</svg>
</body></html>
